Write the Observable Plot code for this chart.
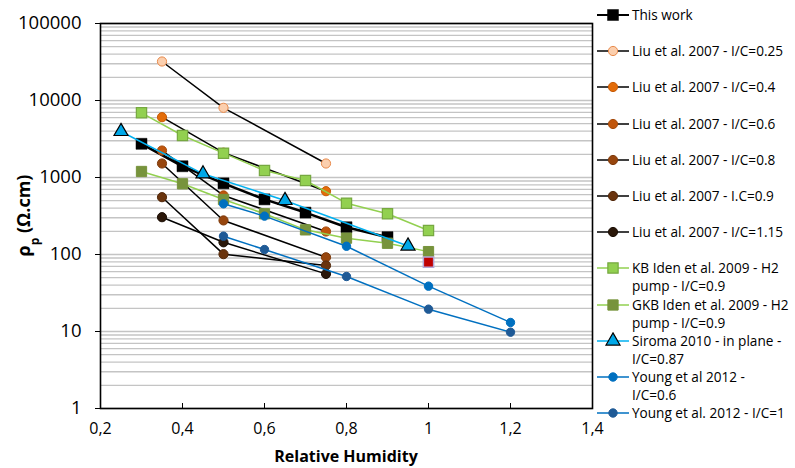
<!DOCTYPE html>
<html><head><meta charset="utf-8">
<script src="https://cdn.jsdelivr.net/npm/d3@7"></script>
<script src="https://cdn.jsdelivr.net/npm/@observablehq/plot@0.6"></script>
<style>
body{margin:0;background:#fff;font-family:"Open Sans","Liberation Sans",sans-serif;}
#wrap{position:relative;width:795px;height:468px;overflow:hidden;}
#legend{position:absolute;left:596px;top:0;width:199px;height:468px;overflow:hidden;}
.item{position:absolute;left:0;display:flex;align-items:flex-start;font-size:13.6px;line-height:18px;white-space:pre;color:#000;}
.item svg{flex:none;margin-right:2px;}
</style></head><body>
<div id="wrap"><div id="chart"></div><div id="legend"></div></div>
<script>
// ---- data ----
const rhThisWork = [0.3, 0.4, 0.5, 0.6, 0.7, 0.8, 0.9];
const rhoThisWork = [2740, 1400, 840, 520, 350, 226, 168];
const rhThisWorkRed = [1.0];
const rhoThisWorkRed = [79.5];

const rhLiu = [0.35, 0.5, 0.75];
const rhoLiu025 = [32100, 8040, 1520];
const rhoLiu04 = [6070, 2100, 664];
const rhoLiu06 = [2240, 585, 199];
const rhoLiu08 = [1520, 277, 92];
const rhoLiu09 = [555, 101, 72];
const rhoLiu115 = [305, 144, 56];

const rhIden = [0.3, 0.4, 0.5, 0.6, 0.7, 0.8, 0.9, 1.0];
const rhoKB = [6920, 3510, 2070, 1230, 914, 464, 338, 205];
const rhoGKB = [1197, 828, 518, 338, 209, 163, 140, 109];

const rhSiroma = [0.25, 0.45, 0.65, 0.95];
const rhoSiroma = [3960, 1117, 503, 129];

const rhYoung = [0.5, 0.6, 0.8, 1.0, 1.2];
const rhoYoung06 = [455, 315, 128, 38.8, 13.1];
const rhoYoung1 = [173, 116, 51.8, 19.5, 9.8];

const xTicks = [0.2, 0.4, 0.6, 0.8, 1.0, 1.2, 1.4];
const yTicks = [1, 10, 100, 1000, 10000, 100000];

const labels = [
  "This work",
  "Liu et al. 2007 - I/C=0.25",
  "Liu et al. 2007 - I/C=0.4",
  "Liu et al. 2007 - I/C=0.6",
  "Liu et al. 2007 - I/C=0.8",
  "Liu et al. 2007 - I.C=0.9",
  "Liu et al. 2007 - I/C=1.15",
  "KB Iden et al. 2009 - H2\npump - I/C=0.9",
  "GKB Iden et al. 2009 - H2\npump - I/C=0.9",
  "Siroma 2010 - in plane -\nI/C=0.87",
  "Young et al 2012 -\nI/C=0.6",
  "Young et al. 2012 - I/C=1"
];

// ---- series styles ----
const series = [
  {rh: rhThisWork, rho: rhoThisWork, line: "#000", lw: 2.6, symbol: "square", r: 6.2, fill: "#000", stroke: "#000", sw: 0.5},
  {rh: rhLiu, rho: rhoLiu025, line: "#000", lw: 1.5, symbol: "circle", r: 4.6, fill: "#FBCFAE", stroke: "#E8894A", sw: 1},
  {rh: rhLiu, rho: rhoLiu04, line: "#000", lw: 1.5, symbol: "circle", r: 4.6, fill: "#E36C09", stroke: "#C65A06", sw: 1},
  {rh: rhLiu, rho: rhoLiu06, line: "#000", lw: 1.5, symbol: "circle", r: 4.6, fill: "#C0560D", stroke: "#A44A0B", sw: 1},
  {rh: rhLiu, rho: rhoLiu08, line: "#000", lw: 1.5, symbol: "circle", r: 4.6, fill: "#97460E", stroke: "#7E3A0B", sw: 1},
  {rh: rhLiu, rho: rhoLiu09, line: "#000", lw: 1.5, symbol: "circle", r: 4.6, fill: "#6A340D", stroke: "#52280A", sw: 1},
  {rh: rhLiu, rho: rhoLiu115, line: "#000", lw: 1.5, symbol: "circle", r: 4.6, fill: "#2A1709", stroke: "#1A0E05", sw: 1},
  {rh: rhIden, rho: rhoKB, line: "#92D050", lw: 1.5, symbol: "square", r: 5.8, fill: "#92D050", stroke: "#76A840", sw: 1.2},
  {rh: rhIden, rho: rhoGKB, line: "#92D050", lw: 1.5, symbol: "square", r: 5.8, fill: "#77933C", stroke: "#77933C", sw: 1},
  {rh: rhSiroma, rho: rhoSiroma, line: "#00B0F0", lw: 1.5, symbol: "triangle", r: 5.2, fill: "#00A8E8", stroke: "#000", sw: 1.2},
  {rh: rhYoung, rho: rhoYoung06, line: "#0070C0", lw: 1.5, symbol: "circle", r: 4.2, fill: "#0070C0", stroke: "#0070C0", sw: 1},
  {rh: rhYoung, rho: rhoYoung1, line: "#0070C0", lw: 1.5, symbol: "circle", r: 4.2, fill: "#1F5A96", stroke: "#1F5A96", sw: 1}
];

const toRows = (s) => s.rh.map((x, i) => ({x, y: s.rho[i]}));
const gridValues = d3.scaleLog().domain([1, 100000]).ticks();

const marks = [
  Plot.ruleY(gridValues, {stroke: "#c4c4c4", strokeWidth: 1.3}),
  Plot.frame({stroke: "#000", strokeWidth: 1.6}),
  Plot.axisX({ticks: xTicks, tickFormat: d => String(d).replace(".", ","), tickSize: -5, tickPadding: 19, fontSize: 16, label: null}),
  Plot.axisY({ticks: yTicks, tickSize: 5, text: null, label: null}),
  Plot.text(yTicks, {y: d => d, text: d => String(d), frameAnchor: "left", textAnchor: "end", dx: -19, fontSize: 18.5})
];
series.forEach(s => {
  const rows = toRows(s);
  marks.push(Plot.line(rows, {x: "x", y: "y", stroke: s.line, strokeWidth: s.lw}));
  marks.push(Plot.dot(rows, {x: "x", y: "y", symbol: s.symbol, r: s.r, fill: s.fill, stroke: s.stroke, strokeWidth: s.sw}));
});
marks.push(Plot.dot(rhThisWorkRed.map((x, i) => ({x, y: rhoThisWorkRed[i]})),
  {x: "x", y: "y", symbol: "square", r: 5.8, fill: "#C00000", stroke: "#B4A7D6", strokeWidth: 1.5}));

const W = 795, H = 468, ML = 100, MR = 203, MT = 23, MB = 60;
const chart = Plot.plot({
  width: W, height: H,
  marginLeft: ML, marginRight: MR, marginTop: MT, marginBottom: MB,
  style: {fontFamily: '"Open Sans", "Liberation Sans", sans-serif', background: "#fff", color: "#000"},
  x: {domain: [0.2, 1.4]},
  y: {type: "log", domain: [1, 100000]},
  marks
});
document.getElementById("chart").appendChild(chart);

const svg = d3.select(chart);

// axis titles
svg.append("text")
  .attr("x", (ML + (W - MR)) / 2).attr("y", 462)
  .attr("text-anchor", "middle")
  .style("font-size", "16px").style("font-weight", "bold")
  .text("Relative Humidity");
const yl = svg.append("text")
  .attr("transform", `translate(30,${(MT + (H - MB)) / 2}) rotate(-90)`)
  .attr("text-anchor", "middle")
  .style("font-size", "18px").style("font-weight", "bold");
yl.append("tspan").text("ρ");
yl.append("tspan").attr("baseline-shift", "sub").style("font-size", "12px").text("p");
yl.append("tspan").text(" (Ω.cm)");

// legend
const legend = d3.select("#legend");
labels.forEach((lab, i) => {
  const s = series[i];
  const cy = 15 + 36.2 * i;
  const item = legend.append("div").attr("class", "item").style("top", (cy - 9) + "px");
  const g = item.append("svg").attr("width", 34).attr("height", 18);
  g.append("line").attr("x1", 1).attr("x2", 33).attr("y1", 9).attr("y2", 9)
    .attr("stroke", s.line).attr("stroke-width", Math.min(s.lw, 2));
  const sym = {circle: d3.symbolCircle, square: d3.symbolSquare, triangle: d3.symbolTriangle}[s.symbol];
  g.append("path").attr("transform", "translate(17,9)")
    .attr("d", d3.symbol(sym, Math.PI * s.r * s.r)())
    .attr("fill", s.fill).attr("stroke", s.stroke).attr("stroke-width", s.sw);
  item.append("span").text(lab);
});
</script></body></html>
